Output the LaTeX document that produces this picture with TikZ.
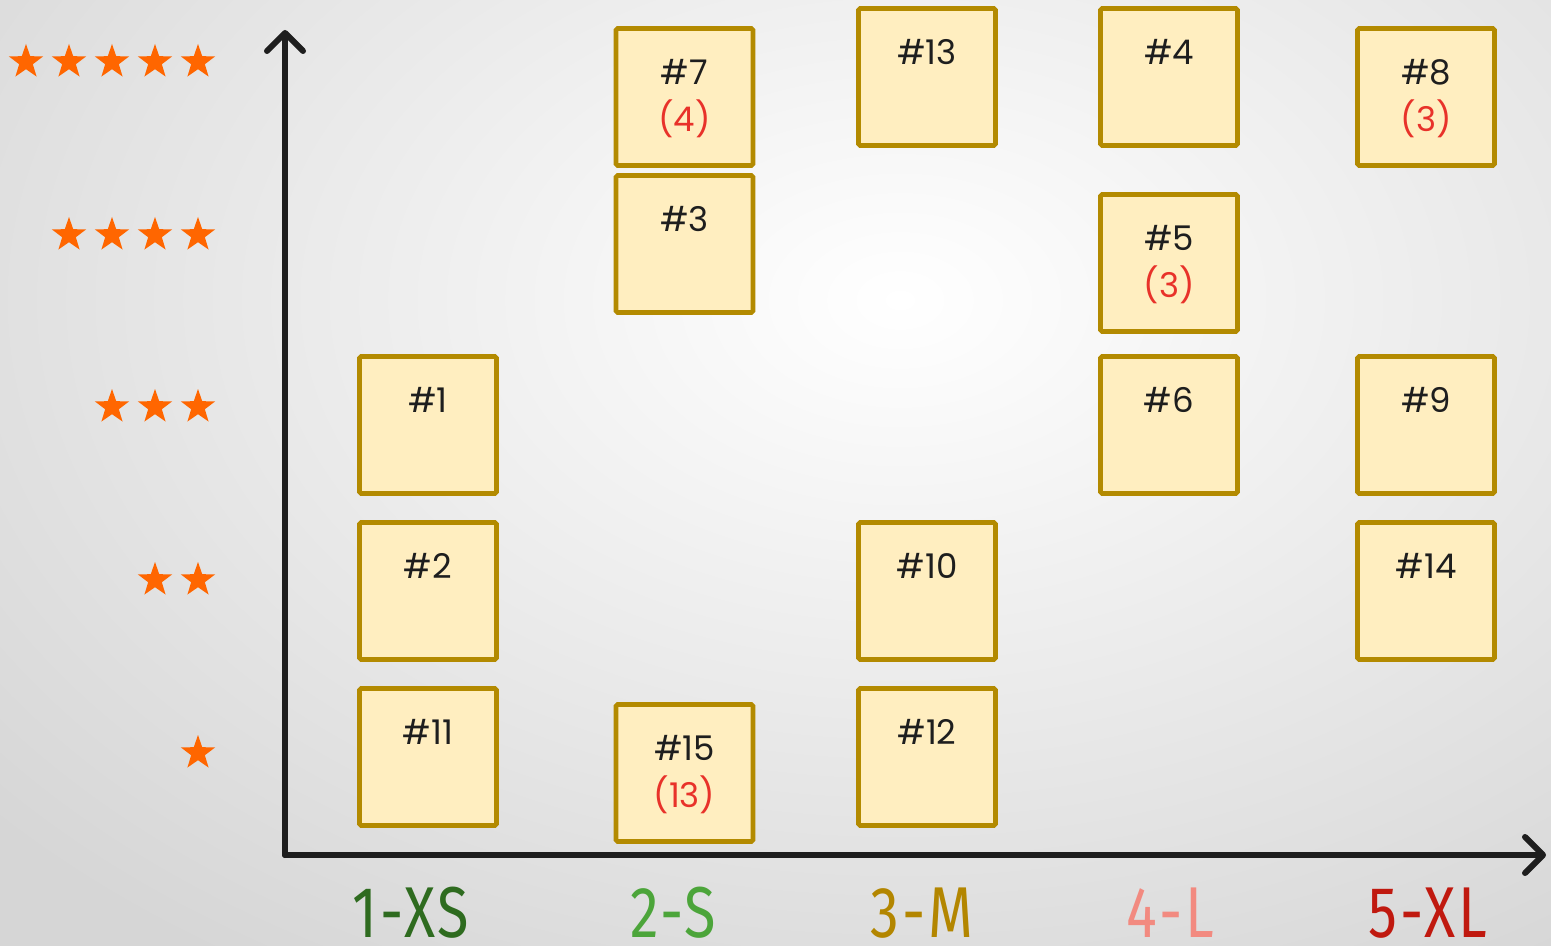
\documentclass[tikz,border=0pt]{standalone}
\usepackage{fontspec}
\setmainfont{Poppins}
\newfontfamily\axisfont[FakeStretch=0.8, LetterSpace=4]{Fira Sans}
\usetikzlibrary{shapes.geometric,arrows.meta}
\definecolor{boxborder}{HTML}{B38A00}
\definecolor{boxfill}{HTML}{FFEEC0}
\definecolor{starc}{HTML}{FF6600}
\definecolor{redtxt}{HTML}{E8322A}
\definecolor{axisc}{HTML}{1E1E1E}
\definecolor{cxs}{HTML}{2E6B1F}
\definecolor{cs}{HTML}{4CA53A}
\definecolor{cm}{HTML}{B38600}
\definecolor{cl}{HTML}{F28A80}
\definecolor{cxl}{HTML}{C0190F}
\definecolor{bgouter}{HTML}{D6D6D6}
\tikzset{
  card/.style={draw=boxborder, fill=boxfill, line width=2.3pt, minimum size=68.5pt, inner sep=0pt, rounded corners=0.8pt},
  cardtxt/.style={font=\fontsize{17}{20}\selectfont, text=axisc, inner sep=0pt, anchor=center},
  cardnum/.style={font=\fontsize{17}{20}\selectfont, text=redtxt, inner sep=0pt, anchor=center},
  starnode/.style={star, star points=5, star point ratio=2.5, fill=starc, draw=none, minimum size=18pt, inner sep=0pt},
  axisline/.style={draw=axisc, line width=3pt, line cap=round, -{Straight Barb[length=9pt, width=18pt, line cap=round, line join=round]}},
  axislbl/.style={font=\axisfont\fontsize{36}{38}\selectfont, inner sep=0pt, anchor=base}
}
\begin{document}
\begin{tikzpicture}[x=0.5pt, y=-0.5pt]
\useasboundingbox (0,0) rectangle (1551,946);
\shade[inner color=white, outer color=bgouter] (-300,-500) rectangle (2100,1100);
% axes
\coordinate (origin) at (285,855);
\coordinate (ytop) at (285,30);
\coordinate (xend) at (1546,855);
\draw[axisline] (origin) -- (ytop);
\draw[axisline] (origin) -- (xend);
% stars
\foreach \r/\y/\n in {5/62/5, 4/235/4, 3/407/3, 2/580/2, 1/753/1}{
  \foreach \k in {1,...,\n}{
    \node[starnode] (s\r-\k) at ({198-43*(\k-1)},\y) {};
  }
}
% cards: center x, top y
\foreach \name/\cx/\ty in {b7/684.5/28, b3/684.5/175, b13/927/8, b4/1169/8, b8/1426/28, b5/1169/194, b1/428/356, b6/1169/356, b9/1426/356, b2/428/522, b10/927/522, b14/1426/522, b11/428/688, b15/684.5/704, b12/927/688}{
  \node[card] (\name) at (\cx,\ty+69) {};
}
\node[cardtxt] (t7) at ([yshift=-23pt]b7.north) {\#7};
\node[cardnum] (n7) at ([yshift=-46.5pt]b7.north) {(4)};
\node[cardtxt] (t3) at ([yshift=-23pt]b3.north) {\#3};
\node[cardtxt] (t13) at ([yshift=-23pt]b13.north) {\#13};
\node[cardtxt] (t4) at ([yshift=-23pt]b4.north) {\#4};
\node[cardtxt] (t8) at ([yshift=-23pt]b8.north) {\#8};
\node[cardnum] (n8) at ([yshift=-46.5pt]b8.north) {(3)};
\node[cardtxt] (t5) at ([yshift=-23pt]b5.north) {\#5};
\node[cardnum] (n5) at ([yshift=-46.5pt]b5.north) {(3)};
\node[cardtxt] (t1) at ([yshift=-23pt]b1.north) {\#1};
\node[cardtxt] (t6) at ([yshift=-23pt]b6.north) {\#6};
\node[cardtxt] (t9) at ([yshift=-23pt]b9.north) {\#9};
\node[cardtxt] (t2) at ([yshift=-23pt]b2.north) {\#2};
\node[cardtxt] (t10) at ([yshift=-23pt]b10.north) {\#10};
\node[cardtxt] (t14) at ([yshift=-23pt]b14.north) {\#14};
\node[cardtxt] (t11) at ([yshift=-23pt]b11.north) {\#11};
\node[cardtxt] (t15) at ([yshift=-23pt]b15.north) {\#15};
\node[cardnum] (n15) at ([yshift=-46.5pt]b15.north) {(13)};
\node[cardtxt] (t12) at ([yshift=-23pt]b12.north) {\#12};
% axis labels
\node[axislbl, text=cxs] (lxs) at (411,937) {1-XS};
\node[axislbl, text=cs] (ls) at (673,937) {2-S};
\node[axislbl, text=cm] (lm) at (922,937) {3-M};
\node[axislbl, text=cl] (ll) at (1170,937) {4-L};
\node[axislbl, text=cxl] (lxl) at (1428,937) {5-XL};
\end{tikzpicture}
\end{document}
